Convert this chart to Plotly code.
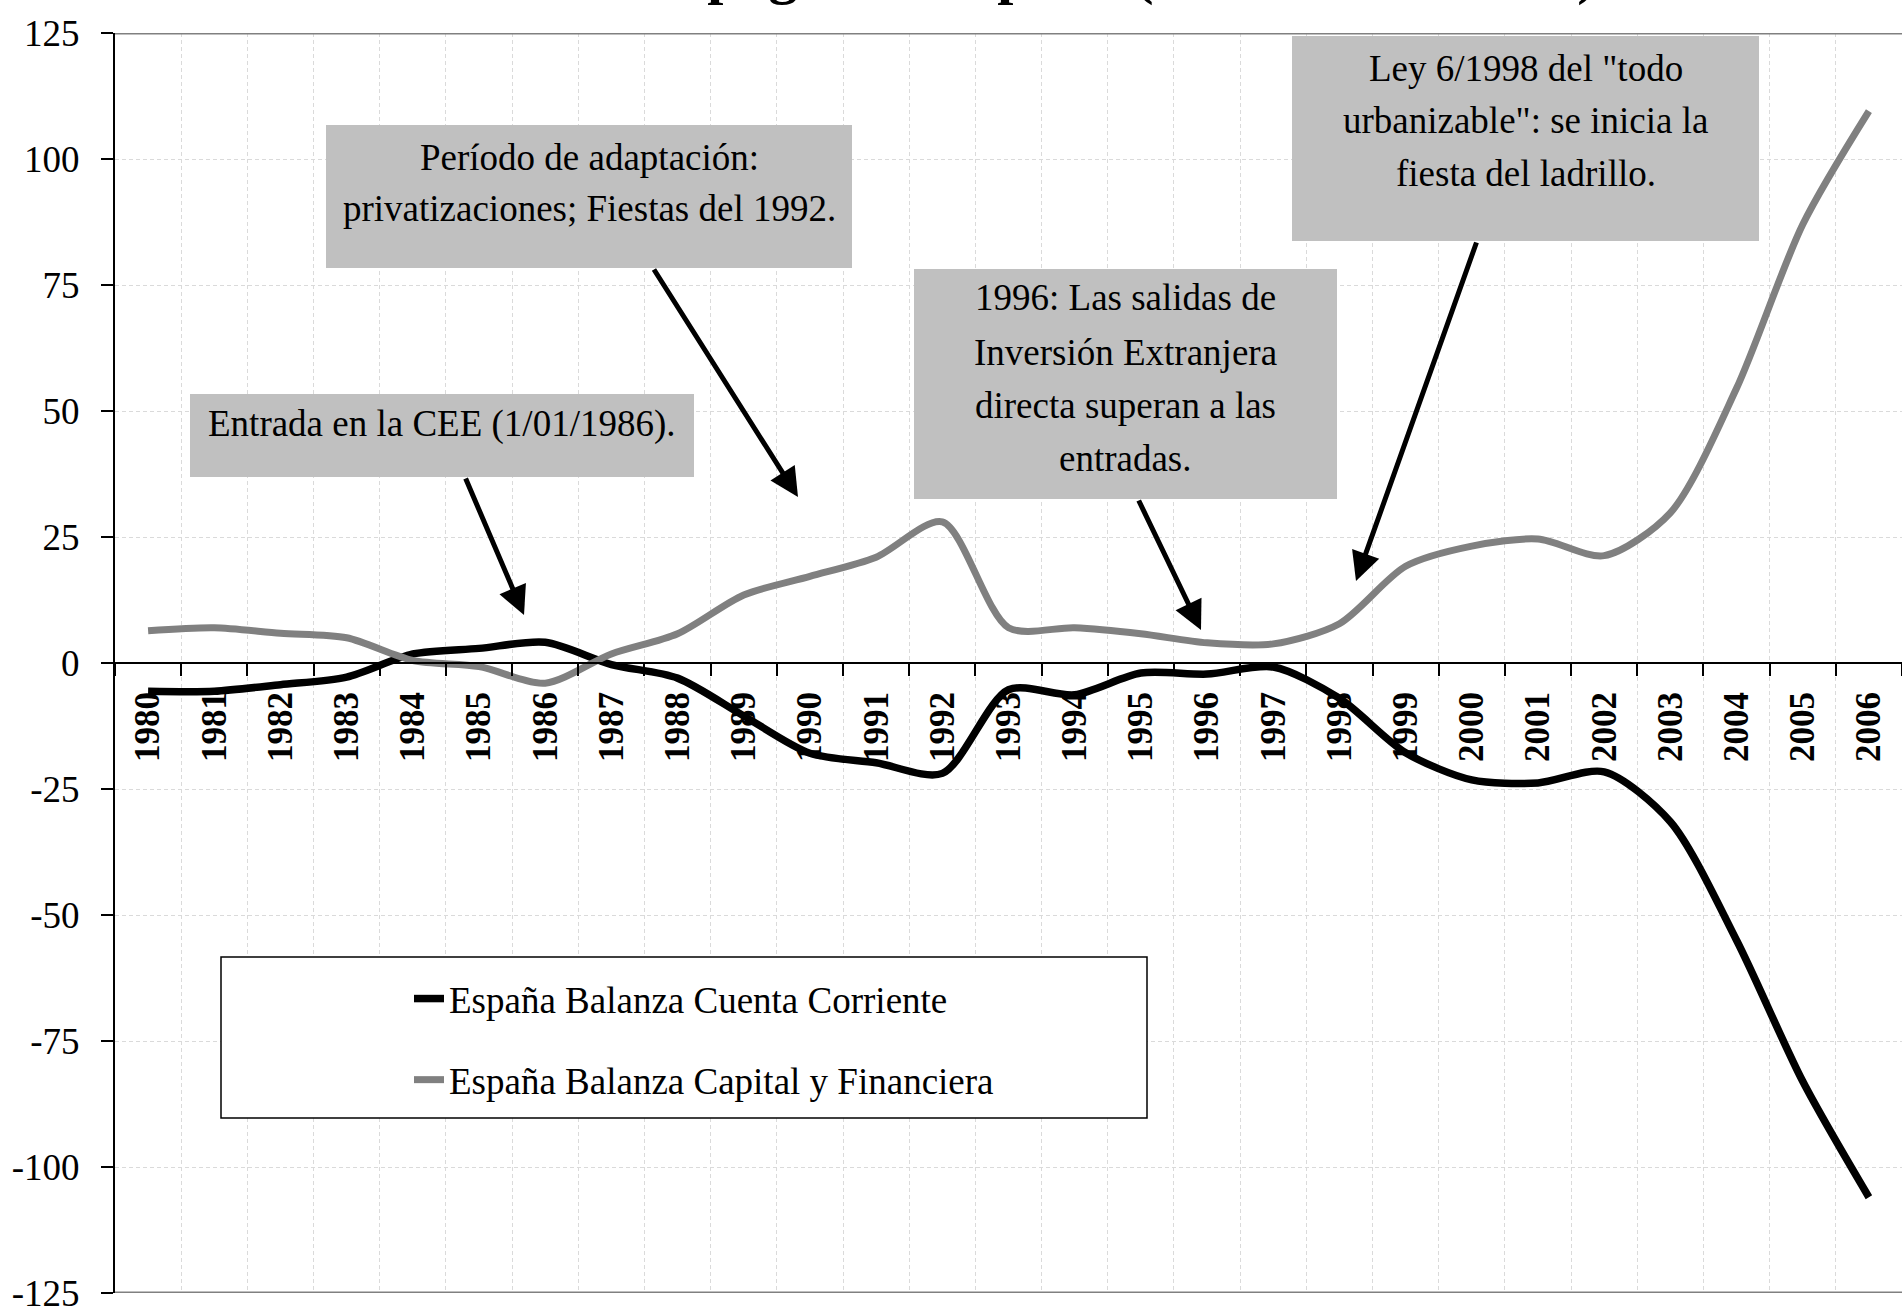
import plotly.graph_objects as go

# ---------------- data ----------------
years = [str(y) for y in range(1980, 2007)]
cuenta_corriente = [-5.6, -5.6, -4.3, -2.8, 1.8, 2.9, 4.1, -0.3, -3.0, -10.5,
                    -17.9, -19.8, -21.9, -5.3, -6.3, -2.0, -2.2, -0.8, -7.0, -17.8,
                    -23.2, -23.8, -21.6, -31.5, -55.0, -83.0, -106.0]
capital_financiera = [6.4, 7.0, 5.9, 5.0, 0.5, -0.7, -4.0, 1.8, 5.8, 13.5,
                      17.2, 21.0, 28.0, 7.0, 7.0, 5.8, 4.0, 3.8, 7.8, 19.2,
                      23.2, 24.6, 21.3, 29.8, 54.5, 87.0, 109.5]
series_names = ["España Balanza Cuenta Corriente", "España Balanza Capital y Financiera"]
y_ticks = [-125, -100, -75, -50, -25, 0, 25, 50, 75, 100, 125]
y_ticktext = [str(v) for v in y_ticks]
title_text = "Balanza de pagos de España (Mil millones de $)"

notes = [
    ["Entrada en la CEE (1/01/1986)."],
    ["Período de adaptación:", "privatizaciones; Fiestas del 1992."],
    ["1996: Las salidas de", "Inversión Extranjera", "directa superan a las", "entradas."],
    ["Ley 6/1998 del \"todo", "urbanizable\": se inicia la", "fiesta del ladrillo."],
]

# ---------------- layout geometry (pixels) ----------------
FW, FH = 1902, 1315
L, T, R, B = 115, 33, 1902, 1293
PW, PH = R - L, B - T


def px(x):
    return (x - L) / PW


def py(y):
    return 1 - (y - T) / PH


FONT = "Liberation Serif, Times New Roman, serif"

fig = go.Figure()
fig.add_trace(go.Scatter(x=years, y=cuenta_corriente, name=series_names[0], mode="lines",
                         line=dict(color="#000000", width=7.5, shape="spline", smoothing=0.8),
                         legendgroup="a"))
fig.add_trace(go.Scatter(x=years, y=capital_financiera, name=series_names[1], mode="lines",
                         line=dict(color="#808080", width=7, shape="spline", smoothing=0.8),
                         legendgroup="b"))

shapes = []
annotations = []

# note boxes
boxes = [(190, 394, 694, 477), (326, 125, 852, 268), (914, 269, 1337, 499), (1292, 36, 1759, 241)]
line_centers = [[424], [158, 209], [297, 352, 405, 458], [68, 121, 173]]
for (x0, y0, x1, y1), lines, ys in zip(boxes, notes, line_centers):
    shapes.append(dict(type="rect", xref="paper", yref="paper", x0=px(x0), x1=px(x1),
                       y0=py(y1), y1=py(y0), fillcolor="#C0C0C0", line=dict(width=0), layer="above"))
    cx = (x0 + x1) / 2
    for txt, yc in zip(lines, ys):
        annotations.append(dict(text=txt, xref="paper", yref="paper", x=px(cx), y=py(yc),
                                xanchor="center", yanchor="middle", showarrow=False,
                                font=dict(family=FONT, size=37, color="black")))

# arrows: (tail, head)
arrows = [((465, 477), (524, 615)), ((653, 268), (798, 497)),
          ((1138, 499), (1201, 630)), ((1477, 241), (1356, 581))]
for (tx, ty), (hx, hy) in arrows:
    annotations.append(dict(text="", xref="paper", yref="paper", x=px(hx), y=py(hy),
                            axref="pixel", ayref="pixel", ax=tx - hx, ay=ty - hy,
                            showarrow=True, arrowhead=2, arrowsize=1.15, arrowwidth=5,
                            arrowcolor="black", standoff=0, startstandoff=0))

# legend box
shapes.append(dict(type="rect", xref="paper", yref="paper", x0=px(221), x1=px(1147),
                   y0=py(1118), y1=py(957), fillcolor="white",
                   line=dict(color="black", width=1.5), layer="above"))
# top / bottom plot borders
for yy in (125, -125):
    shapes.append(dict(type="line", xref="paper", yref="y", x0=0, x1=1, y0=yy, y1=yy,
                       line=dict(color="#808080", width=3), layer="above"))

fig.update_layout(
    width=FW, height=FH,
    margin=dict(l=L, r=FW - R, t=T, b=FH - B, pad=0),
    paper_bgcolor="white", plot_bgcolor="white",
    font=dict(family=FONT, color="black"),
    title=dict(text=title_text, x=0.5, xref="paper", xanchor="center", y=1.0, yanchor="bottom",
               yref="container", pad=dict(b=7),
               font=dict(family=FONT, size=58, color="black", weight="bold")),
    showlegend=True,
    legend=dict(x=px(409), y=py(968), xanchor="left", yanchor="top",
                bgcolor="rgba(0,0,0,0)", borderwidth=0, tracegroupgap=30,
                font=dict(family=FONT, size=37, color="black")),
    shapes=shapes,
    annotations=annotations,
)

GRID = "#dadada"
fig.update_xaxes(type="category", range=[-0.5, 26.5], tickson="boundaries",
                 ticks="outside", ticklen=12, tickwidth=2, tickcolor="black",
                 showline=True, linecolor="black", linewidth=2,
                 anchor="free", position=0.5, tickangle=-90, ticklabelstandoff=14,
                 tickfont=dict(family=FONT, size=35, color="black", weight="bold"),
                 showgrid=True, gridcolor=GRID, gridwidth=1, griddash="4px,3px",
                 zeroline=False, fixedrange=True)
fig.update_yaxes(range=[-125, 125], tickvals=y_ticks, ticktext=y_ticktext,
                 ticks="outside", ticklen=12, tickwidth=2, tickcolor="black",
                 showline=True, linecolor="black", linewidth=2, ticklabelstandoff=14,
                 tickfont=dict(family=FONT, size=37, color="black"),
                 showgrid=True, gridcolor=GRID, gridwidth=1, griddash="4px,3px",
                 zeroline=False, fixedrange=True)

fig.write_html("out.html", config={"displayModeBar": False},
               post_script="document.body.style.margin='0';document.body.style.overflow='hidden';")
